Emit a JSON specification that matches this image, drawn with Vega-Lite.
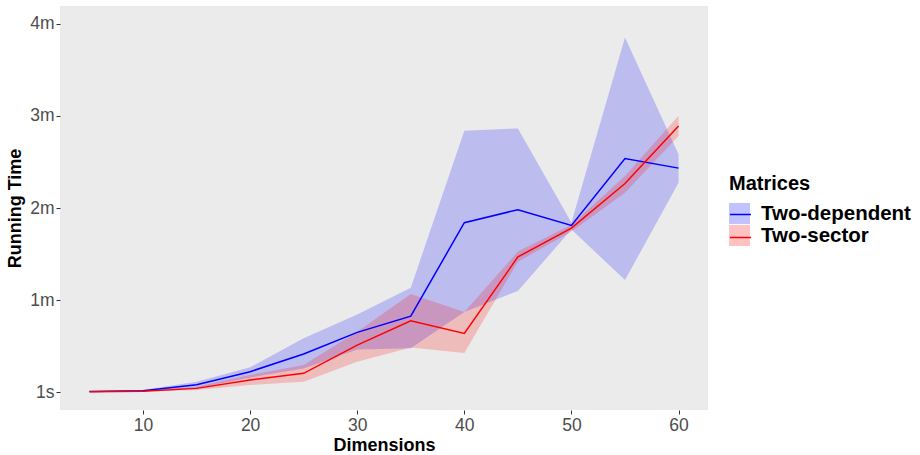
{
  "$schema": "https://vega.github.io/schema/vega-lite/v6.json",
  "autosize": {"type": "none"},
  "width": 648,
  "height": 404,
  "padding": {"left": 60, "top": 6, "right": 212, "bottom": 45},
  "background": "white",
  "config": {
    "font": "Liberation Sans",
    "view": {"fill": "#ebebeb", "stroke": null},
    "axis": {
      "grid": false,
      "domain": false,
      "tickColor": "#333333",
      "tickSize": 4,
      "tickWidth": 1,
      "labelColor": "#4d4d4d",
      "labelFontSize": 17.5,
      "labelFont": "Liberation Sans",
      "labelPadding": 2,
      "titleFont": "Liberation Sans",
      "titleFontSize": 18,
      "titleFontWeight": "bold",
      "titleColor": "black"
    },
    "legend": {
      "orient": "none",
      "legendX": 669,
      "legendY": 168,
      "padding": 0,
      "titleFont": "Liberation Sans",
      "titleFontSize": 20,
      "titleFontWeight": "bold",
      "titleColor": "black",
      "titlePadding": 9,
      "labelFont": "Liberation Sans",
      "labelFontSize": 20.5,
      "labelFontWeight": "bold",
      "labelColor": "black",
      "labelOffset": 11,
      "rowPadding": 1,
      "symbolSize": 441,
      "symbolOffset": 0
    }
  },
  "data": {
    "values": [
      {"Dimensions": 5, "Matrices": "Two-dependent", "time": 0.3, "lower": 0.1, "upper": 0.5},
      {"Dimensions": 10, "Matrices": "Two-dependent", "time": 0.8, "lower": 0.4, "upper": 1.3},
      {"Dimensions": 15, "Matrices": "Two-dependent", "time": 4.8, "lower": 2.5, "upper": 6.7},
      {"Dimensions": 20, "Matrices": "Two-dependent", "time": 13.3, "lower": 9.5, "upper": 16.1},
      {"Dimensions": 25, "Matrices": "Two-dependent", "time": 24.8, "lower": 15.4, "upper": 35},
      {"Dimensions": 30, "Matrices": "Two-dependent", "time": 38.9, "lower": 27.8, "upper": 50.6},
      {"Dimensions": 35, "Matrices": "Two-dependent", "time": 49.5, "lower": 28.5, "upper": 68},
      {"Dimensions": 40, "Matrices": "Two-dependent", "time": 110.4, "lower": 52.2, "upper": 170.4},
      {"Dimensions": 45, "Matrices": "Two-dependent", "time": 118.9, "lower": 65.9, "upper": 171.9},
      {"Dimensions": 50, "Matrices": "Two-dependent", "time": 108.6, "lower": 106, "upper": 110.5},
      {"Dimensions": 55, "Matrices": "Two-dependent", "time": 152.2, "lower": 73, "upper": 231.2},
      {"Dimensions": 60, "Matrices": "Two-dependent", "time": 146, "lower": 136.4, "upper": 155},
      {"Dimensions": 5, "Matrices": "Two-sector", "time": 0.2, "lower": 0.1, "upper": 0.4},
      {"Dimensions": 10, "Matrices": "Two-sector", "time": 0.5, "lower": 0.3, "upper": 0.8},
      {"Dimensions": 15, "Matrices": "Two-sector", "time": 2.4, "lower": 1.3, "upper": 3.5},
      {"Dimensions": 20, "Matrices": "Two-sector", "time": 7.8, "lower": 4.6, "upper": 11.1},
      {"Dimensions": 25, "Matrices": "Two-sector", "time": 12.2, "lower": 6.7, "upper": 17.6},
      {"Dimensions": 30, "Matrices": "Two-sector", "time": 30.6, "lower": 19.8, "upper": 39.3},
      {"Dimensions": 35, "Matrices": "Two-sector", "time": 46.5, "lower": 29.1, "upper": 64},
      {"Dimensions": 40, "Matrices": "Two-sector", "time": 38.2, "lower": 25.5, "upper": 52.2},
      {"Dimensions": 45, "Matrices": "Two-sector", "time": 88.1, "lower": 85, "upper": 91.6},
      {"Dimensions": 50, "Matrices": "Two-sector", "time": 106.9, "lower": 104.7, "upper": 109},
      {"Dimensions": 55, "Matrices": "Two-sector", "time": 136, "lower": 129.9, "upper": 140.8},
      {"Dimensions": 60, "Matrices": "Two-sector", "time": 173.5, "lower": 167, "upper": 180.2}
    ]
  },
  "layer": [
    {
      "mark": {"type": "area", "fillOpacity": 0.2, "clip": true},
      "encoding": {
        "x": {
          "field": "Dimensions", "type": "quantitative",
          "scale": {"domain": [2.25, 62.75], "nice": false, "zero": false},
          "axis": {"values": [10, 20, 30, 40, 50, 60], "title": "Dimensions", "titlePadding": 3}
        },
        "y": {
          "field": "lower", "type": "quantitative",
          "scale": {"domain": [-11.7, 251.7], "nice": false, "zero": false},
          "axis": {
            "values": [0, 60, 120, 180, 240],
            "labelExpr": "datum.value == 0 ? '1s' : (datum.value / 60) + 'm'",
            "title": "Running Time",
            "titlePadding": 5
          }
        },
        "y2": {"field": "upper"},
        "fill": {
          "field": "Matrices", "type": "nominal",
          "scale": {"range": ["blue", "red"]},
          "legend": {
            "title": "Matrices",
            "symbolType": "square",
            "symbolOpacity": 0.24,
            "symbolStrokeWidth": 0
          }
        }
      }
    },
    {
      "mark": {"type": "line", "strokeWidth": 1.5, "clip": true},
      "encoding": {
        "x": {"field": "Dimensions", "type": "quantitative"},
        "y": {"field": "time", "type": "quantitative"},
        "stroke": {
          "field": "Matrices", "type": "nominal",
          "scale": {"domain": ["Two-dependent", "Two-sector"], "range": ["blue", "red"]},
          "legend": {
            "title": "Matrices",
            "titleColor": "transparent",
            "labelColor": "transparent",
            "symbolType": "stroke",
            "symbolStrokeWidth": 1.5,
            "symbolOpacity": 1
          }
        }
      }
    }
  ]
}
